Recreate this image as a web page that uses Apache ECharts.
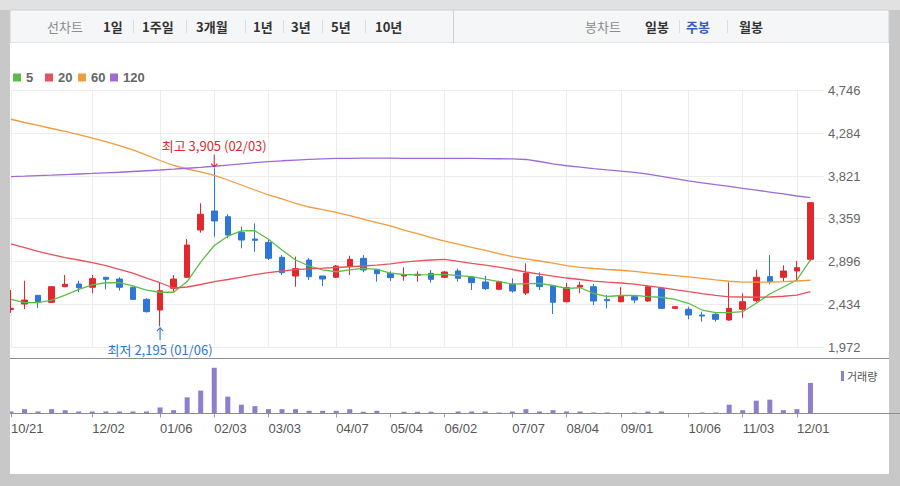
<!DOCTYPE html>
<html><head><meta charset="utf-8">
<script src="https://cdn.jsdelivr.net/npm/echarts@6/dist/echarts.min.js"></script>
<style>html,body{margin:0;padding:0;background:#c8c8c8;}#c{width:900px;height:486px;}</style>
</head><body><div id="c"></div>
<script>
// ---- data ----
const weekDates = ['10/21','10/28','11/04','11/11','11/18','11/25','12/02','12/09','12/16','12/23',
  '12/30','01/06','01/13','01/20','01/27','02/03','02/10','02/17','02/24','03/03',
  '03/10','03/17','03/24','03/31','04/07','04/14','04/21','04/28','05/04','05/12',
  '05/19','05/26','06/02','06/09','06/16','06/23','06/30','07/07','07/14','07/21',
  '07/28','08/04','08/11','08/18','08/25','09/01','09/08','09/15','09/22','09/29',
  '10/06','10/13','10/20','10/27','11/03','11/10','11/17','11/24','12/01','12/08'];
const xTickLabels = ['10/21','12/02','01/06','02/03','03/03','04/07','05/04','06/02','07/07','08/04','09/01','10/06','11/03','12/01'];
const yTickLabels = ['1,972','2,434','2,896','3,359','3,821','4,284','4,746'];

const opens  = [2378,2437,2531,2455,2624,2653,2618,2726,2707,2618,2487,2372,2607,2726,3237,3443,3381,3212,3140,3104,2942,2740,2912,2740,2726,2848,2931,2812,2769,2740,2747,2769,2726,2794,2726,2675,2596,2653,2556,2733,2635,2462,2620,2624,2487,2462,2516,2469,2607,2390,2380,2318,2326,2264,2379,2473,2733,2726,2794,2920];
const closes = [2390,2480,2462,2624,2650,2613,2711,2704,2618,2487,2354,2581,2707,3075,3407,3335,3183,3129,3126,2931,2776,2819,2732,2707,2848,2920,2805,2765,2722,2754,2758,2704,2783,2715,2668,2603,2678,2578,2769,2625,2455,2613,2640,2469,2472,2524,2480,2624,2390,2408,2318,2307,2271,2390,2462,2726,2678,2794,2830,3533];
const lows   = [2340,2383,2394,2450,2620,2564,2553,2596,2582,2480,2345,2195,2570,2720,3208,3165,3147,3039,3003,2913,2751,2624,2697,2632,2718,2751,2780,2678,2686,2689,2678,2668,2718,2678,2588,2588,2590,2560,2534,2588,2329,2455,2553,2426,2390,2455,2445,2462,2385,2385,2272,2246,2246,2255,2289,2455,2650,2675,2689,2900];
const highs  = [2588,2689,2531,2630,2751,2689,2751,2726,2726,2625,2500,2667,2751,3140,3526,3905,3407,3273,3309,3129,2967,2949,2934,2740,2859,2959,2967,2812,2790,2834,2790,2805,2794,2819,2730,2740,2690,2715,2877,2780,2640,2667,2678,2653,2534,2620,2534,2635,2610,2412,2408,2354,2351,2672,2553,2808,2967,2855,2902,3540];
const volumes = [20,43,20,43,33,20,20,20,20,20,20,60,33,160,227,453,167,87,73,43,43,43,27,27,27,43,17,27,5,17,17,17,5,20,20,20,10,20,43,20,33,20,20,10,10,5,10,20,20,5,5,10,10,87,33,127,137,33,43,303];

const ma5   = [2488,2451,2451,2480,2534,2596,2643,2667,2667,2632,2588,2564,2564,2680,2890,3070,3170,3227,3230,3137,3021,2913,2848,2805,2786,2805,2823,2812,2772,2756,2751,2754,2758,2745,2732,2707,2678,2653,2657,2661,2637,2607,2613,2553,2518,2529,2531,2516,2510,2488,2445,2372,2343,2343,2354,2445,2545,2621,2697,2913];
const ma20  = [3086,3046,3005,2972,2939,2913,2885,2853,2812,2772,2718,2667,2610,2621,2648,2680,2702,2727,2754,2777,2794,2809,2818,2824,2832,2840,2848,2857,2872,2891,2904,2913,2919,2899,2877,2857,2836,2810,2783,2759,2738,2718,2702,2684,2673,2664,2651,2632,2614,2593,2571,2550,2531,2515,2513,2510,2513,2521,2534,2572];
const ma60  = [4435,4400,4368,4335,4303,4270,4232,4194,4151,4103,4048,3989,3935,3897,3865,3827,3778,3724,3670,3616,3573,3524,3486,3457,3427,3392,3356,3318,3281,3237,3197,3156,3118,3084,3049,3016,2982,2950,2924,2902,2878,2853,2834,2821,2810,2802,2790,2774,2759,2745,2731,2714,2697,2683,2673,2673,2675,2680,2686,2694];
const ma120 = [3814,3819,3825,3830,3837,3843,3849,3856,3862,3870,3878,3886,3895,3905,3915,3927,3940,3953,3965,3976,3986,3994,4001,4006,4011,4013,4014,4014,4014,4013,4013,4013,4012,4012,4011,4010,4008,4006,4000,3978,3953,3932,3917,3902,3888,3875,3861,3841,3818,3794,3769,3748,3727,3708,3688,3668,3648,3627,3605,3587];
const maNames = ['5','20','60','120'];

// ---- build ----
const num = s => Number(s.replace(/,/g,''));
const yMin = num(yTickLabels[0]), yMax = num(yTickLabels[yTickLabels.length-1]);
const yInt = (yMax - yMin) / (yTickLabels.length - 1);
const cats = weekDates.concat(['']);
const showIdx = i => xTickLabels.indexOf(cats[i]) >= 0;
const fmt = v => v.toLocaleString('en-US');
const candle = opens.map((o,i)=>[o, closes[i], lows[i], highs[i]]);
const hiIdx = highs.indexOf(Math.max(...highs));
const loIdx = lows.indexOf(Math.min(...lows));
const RED = '#e0282d', BLUE = '#2f77d6';
const maColors = ['#5cbd48','#e8525a','#f29a3c','#a06ad4'];
const maData = [ma5, ma20, ma60, ma120];
const legendLeft = [13, 45, 78, 110];
const KR = '"Noto Sans CJK KR", sans-serif';
const LAT = '"Liberation Sans", Arial, sans-serif';

const upArrow = 'path://M2.5,12 L3.5,12 L3.5,2.5 L5.6,4.6 L6.3,3.9 L3,0.6 L-0.3,3.9 L0.4,4.6 L2.5,2.5 Z';
const downArrow = 'path://M2.5,0 L3.5,0 L3.5,9.5 L5.6,7.4 L6.3,8.1 L3,11.4 L-0.3,8.1 L0.4,7.4 L2.5,9.5 Z';

function t(text, x, y, fill, bold, size) {
  return {type:'text', x:x, y:y, z:5, style:{text:text, fill:fill, font:(bold?'bold ':'')+(size||13)+'px '+KR, verticalAlign:'middle'}};
}
function vline(x, y1, y2, c) { return {type:'line', z:5, shape:{x1:x,y1:y1,x2:x,y2:y2}, style:{stroke:c, lineWidth:1}}; }

const graphics = [
  {type:'rect', z:-5, shape:{x:0,y:0,width:900,height:10}, style:{fill:'#e1e1e1'}},
  {type:'rect', z:-5, shape:{x:10,y:10,width:879,height:33}, style:{fill:'#f5f6f8', stroke:'#cfcfcf'}},
  {type:'rect', z:-5, shape:{x:10,y:43,width:879,height:431}, style:{fill:'#ffffff'}},
  vline(453.5, 10, 43, '#cfcfcf'),
  t('선차트', 47, 26, '#8c8c8c', false),
  t('1일', 103, 26, '#333', true), t('1주일', 142, 26, '#333', true), t('3개월', 196, 26, '#333', true),
  t('1년', 253, 26, '#333', true), t('3년', 291, 26, '#333', true), t('5년', 331, 26, '#333', true),
  t('10년', 375, 26, '#333', true),
  t('봉차트', 585, 26, '#8c8c8c', false),
  t('일봉', 645, 26, '#333', true), t('주봉', 686, 26, '#3b5bbd', true), t('월봉', 739, 26, '#333', true),
  vline(133.5,20,33,'#dcdcdc'), vline(186.5,20,33,'#dcdcdc'), vline(245.5,20,33,'#dcdcdc'),
  vline(283.5,20,33,'#dcdcdc'), vline(322.5,20,33,'#dcdcdc'), vline(365.5,20,33,'#dcdcdc'),
  vline(679.5,20,33,'#dcdcdc'), vline(727.5,20,33,'#dcdcdc'),
  {type:'rect', z:5, shape:{x:841,y:371,width:3,height:10}, style:{fill:'#8e7ecb'}},
  t('거래량', 847, 376, '#555', false, 11),
  {type:'line', z:6, shape:{x1:10,y1:358.5,x2:889,y2:358.5}, style:{stroke:'#8d8d8d', lineWidth:1}},
  {type:'line', z:6, shape:{x1:10,y1:413.5,x2:900,y2:413.5}, style:{stroke:'#8d8d8d', lineWidth:1}},
  {type:'rect', z:100, shape:{x:0,y:43,width:10,height:443}, style:{fill:'#c8c8c8'}}
];

const chart = echarts.init(document.getElementById('c'), null, {renderer:'svg'});
chart.setOption({
  animation:false,
  backgroundColor:'#c8c8c8',
  graphic: graphics,
  legend: maNames.map((n,k)=>({
    data:[n], left: legendLeft[k], top: 71, padding:0, icon:'rect', itemWidth:8, itemHeight:8,
    textStyle:{color:'#666', fontWeight:'bold', fontSize:13, fontFamily:LAT}
  })),
  grid: [
    {left:11, right:76, top:90.5, bottom:139, containLabel:false},
    {left:11, right:76, top:361, bottom:72.5, containLabel:false}
  ],
  xAxis: [
    {type:'category', gridIndex:0, data:cats, boundaryGap:false,
     axisLine:{show:false}, axisTick:{show:false}, axisLabel:{show:false},
     splitLine:{show:true, interval:(i)=>showIdx(i), lineStyle:{color:'#ececec'}}},
    {type:'category', gridIndex:1, data:cats, boundaryGap:false,
     axisLine:{show:false},
     axisTick:{show:true, interval:(i)=>showIdx(i), length:4, lineStyle:{color:'#999'}},
     axisLabel:{show:true, interval:(i)=>showIdx(i), align:'left', color:'#555', fontSize:13, fontFamily:LAT, margin:8},
     splitLine:{show:false}}
  ],
  yAxis: [
    {type:'value', gridIndex:0, position:'right', min:yMin, max:yMax, interval:yInt, scale:true,
     axisLine:{show:false}, axisTick:{show:false},
     axisLabel:{color:'#666', fontSize:13, fontFamily:LAT, margin:4,
       formatter:(v)=>{const k=Math.round((v-yMin)/yInt); return yTickLabels[k]||'';}},
     splitLine:{show:true, lineStyle:{color:'#ececec'}}},
    {type:'value', gridIndex:1, min:0, max:520, show:false, splitLine:{show:false}}
  ],
  series: [
    {type:'candlestick', name:'price', xAxisIndex:0, yAxisIndex:0, data:candle, barWidth:6, z:2,
     itemStyle:{color:RED, color0:BLUE, borderColor:RED, borderColor0:BLUE, borderWidth:1},
     markPoint:{
       data:[
         {coord:[hiIdx, highs[hiIdx]], symbol:downArrow, symbolSize:[7,13], symbolOffset:[0,-7],
          itemStyle:{color:RED},
          label:{show:true, position:'top', distance:3, color:RED, fontSize:13, fontFamily:KR,
                 formatter:'최고 '+fmt(highs[hiIdx])+' ('+weekDates[hiIdx]+')'}},
         {coord:[loIdx, lows[loIdx]], symbol:upArrow, symbolSize:[7,13], symbolOffset:[0,7],
          itemStyle:{color:BLUE},
          label:{show:true, position:'bottom', distance:3, color:BLUE, fontSize:13, fontFamily:KR,
                 formatter:'최저 '+fmt(lows[loIdx])+' ('+weekDates[loIdx]+')'}}
       ]
     }},
    ...maNames.map((n,k)=>({type:'line', name:n, xAxisIndex:0, yAxisIndex:0, data:maData[k],
      symbol:'none', z:3, lineStyle:{color:maColors[k], width:1.3}, itemStyle:{color:maColors[k]}})),
    {type:'bar', name:'거래량', xAxisIndex:1, yAxisIndex:1, data:volumes, barWidth:5,
     itemStyle:{color:'#8e7ecb'}}
  ]
});
</script>
</body></html>
